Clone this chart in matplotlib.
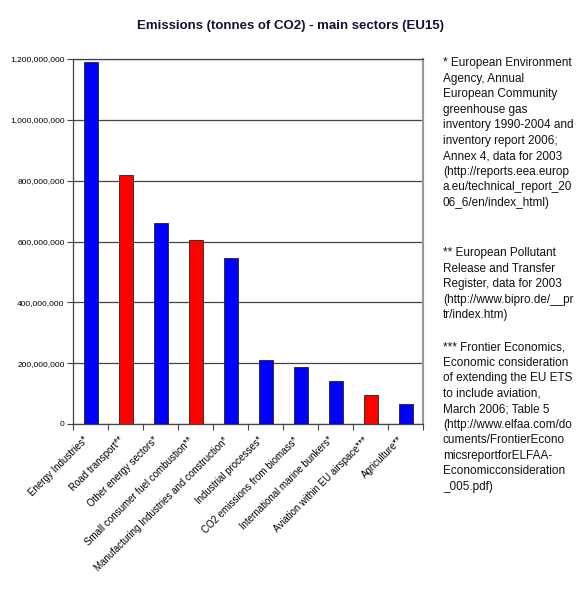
import numpy as np
import matplotlib.pyplot as plt
from matplotlib.ticker import FuncFormatter, FixedLocator

plt.rcParams['font.family'] = ['Liberation Sans', 'DejaVu Sans']

# Emissions data (tonnes of CO2)
sectors = ['Energy Industries*', 'Road transport**', 'Other energy sectors*',
           'Small consumer fuel combustion**',
           'Manufacturing Industries and construction*',
           'Industrial processes*', 'CO2 emissions from biomass*',
           'International marine bunkers*', 'Aviation within EU airspace***',
           'Agriculture**']
emissions = [1190e6, 817e6, 662e6, 605e6, 546e6, 209e6, 186e6, 141e6, 95e6, 65e6]
bar_colors = ['#0000ff', '#ff0000', '#0000ff', '#ff0000', '#0000ff',
              '#0000ff', '#0000ff', '#0000ff', '#ff0000', '#0000ff']

notes = [
    "* European Environment\nAgency, Annual\nEuropean Community\ngreenhouse gas\n"
    "inventory 1990-2004 and\ninventory report 2006;\nAnnex 4, data for 2003\n"
    "(http://reports.eea.europ\na.eu/technical_report_20\n06_6/en/index_html)",
    "** European Pollutant\nRelease and Transfer\nRegister, data for 2003\n"
    "(http://www.bipro.de/__pr\ntr/index.htm)",
    "*** Frontier Economics,\nEconomic consideration\nof extending the EU ETS\n"
    "to include aviation,\nMarch 2006; Table 5\n(http://www.elfaa.com/do\n"
    "cuments/FrontierEcono\nmicsreportforELFAA-\nEconomicconsideration\n_005.pdf)",
]

fig = plt.figure(figsize=(5.81, 5.93), dpi=100)
ax = fig.add_axes([73 / 581, 1 - 424 / 593, 350 / 581, 365 / 593])

x = np.arange(len(sectors))
ax.bar(x, emissions, width=0.4, color=bar_colors, edgecolor='#222222', linewidth=0.6, zorder=3)

ax.set_xlim(-0.5, len(sectors) - 0.5)
ax.set_ylim(0, 1.2e9)
ax.set_yticks(np.arange(0, 1.2e9 + 1, 2e8))
ax.yaxis.set_major_formatter(FuncFormatter(lambda v, p: '{:,.0f}'.format(v)))
ax.yaxis.grid(True, color='#444444', linewidth=0.9, zorder=0)
ax.tick_params(axis='y', labelsize=6, length=4, width=0.8, color='#444444', pad=2)

ax.set_xticks(x - 0.2)
ax.set_xticklabels(sectors, rotation=45, ha='right', rotation_mode='anchor', fontsize=7)
ax.tick_params(axis='x', which='major', length=0, pad=8)
ax.xaxis.set_minor_locator(FixedLocator(np.arange(-0.5, len(sectors), 1.0)))
ax.tick_params(axis='x', which='minor', length=4, width=0.8, color='#444444')

for side in ['left', 'bottom', 'top']:
    ax.spines[side].set_color('#444444')
    ax.spines[side].set_linewidth(0.9)
ax.spines['right'].set_color('#999999')
ax.spines['right'].set_linewidth(1.5)

fig.text(0.5, 1 - 26 / 593, 'Emissions (tonnes of CO2) - main sectors (EU15)',
         ha='center', va='center', fontsize=9.5, fontweight='bold', color='#111133')

note_tops = [57, 247, 341]
for txt, top in zip(notes, note_tops):
    fig.text(443 / 581, 1 - top / 593, txt, ha='left', va='top', fontsize=8.5,
             linespacing=1.39, color='#111111')

fig.savefig('out.png', dpi=100)
